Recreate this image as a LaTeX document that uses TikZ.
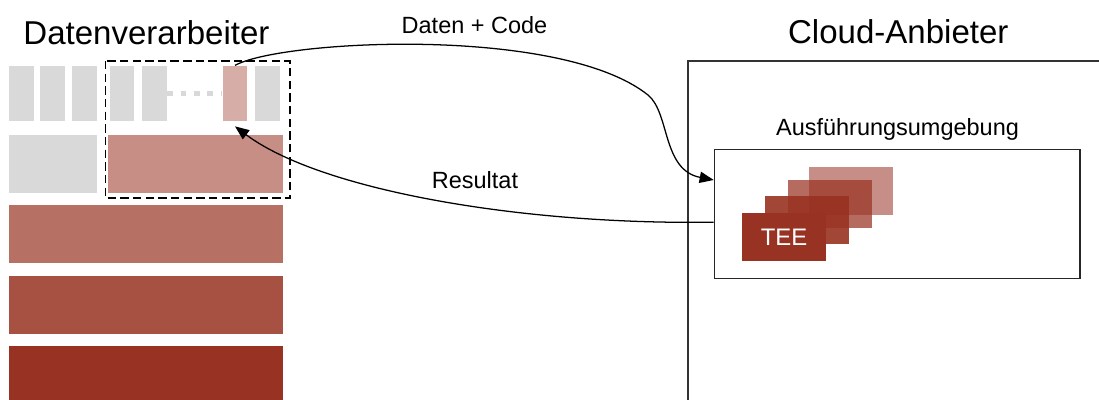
\documentclass[tikz,border=0pt]{standalone}
\usepackage{fontspec}
\setmainfont{Liberation Sans}
\usetikzlibrary{arrows.meta}

\definecolor{teered}{RGB}{152,50,34}
\definecolor{blkgray}{RGB}{217,217,217}

\tikzset{
  blk/.style={rectangle, inner sep=0pt, minimum width=6.2mm, minimum height=13.9mm, fill=blkgray},
  bar/.style={rectangle, inner sep=0pt, minimum width=68.5mm, minimum height=14.6mm},
  tee/.style={rectangle, inner sep=0pt, minimum width=21mm, minimum height=12mm, fill=teered},
  title/.style={font=\fontsize{23.5}{28}\selectfont, anchor=base},
  lbl/.style={font=\fontsize{16.7}{20}\selectfont, anchor=base},
  flow/.style={-{Triangle[length=10pt,width=8pt]}, line width=0.9pt},
}

\begin{document}
\begin{tikzpicture}[x=0.25mm, y=-0.25mm]
\useasboundingbox (0,0) rectangle (1099,399);
\clip (0,0) rectangle (1099,399);

% Titles
\node[title] (tproc) at (146.5,44.3) {Datenverarbeiter};
\node[title] (tcloud) at (898.3,43.3) {Cloud-Anbieter};

% Top row of blocks
\node[blk] (b1) at (21.8,93.5) {};
\node[blk] (b2) at (52.5,93.5) {};
\node[blk] (b3) at (84.7,93.5) {};
\node[blk] (b4) at (122,93.5) {};
\node[blk] (b5) at (154.5,93.5) {};
\node[blk, fill=teered!40] (pk) at (235,93.5) {};
\node[blk] (b7) at (267.5,93.5) {};
\draw[blkgray, line width=3.5pt, dash pattern=on 4pt off 5.5pt] (b5.east) -- (pk.west);

% Second row
\node[blk, minimum width=21.9mm, minimum height=14.65mm] (g2) at (53.2,164) {};
\node[blk, fill=teered!55, minimum width=43.75mm, minimum height=14.65mm] (r2) at (195.8,164) {};

% Selection
\draw[line width=1.1pt, dash pattern=on 6pt off 3pt] (105.3,61) rectangle (290,197.8);

% Bars
\node[bar, fill=teered!70] (bar1) at (146.3,233.8) {};
\node[bar, fill=teered!85] (bar2) at (146.3,305.2) {};
\node[bar, fill=teered, minimum height=18.5mm] (bar3) at (146.3,383) {};

% Cloud side
\draw[black!80, line width=1.2pt] (687.7,61) rectangle (1120,420);
\node[lbl] (tenv) at (897.5,135) {Ausführungsumgebung};
\node[draw=black!85, line width=1pt, rectangle, inner sep=0pt,
      minimum width=91.4mm, minimum height=32.25mm] (env) at (897.2,213.8) {};

% TEE stack
\foreach \n/\cx/\cy/\op in {4/851/191/0.55, 3/830/204/0.72, 2/807/220/0.9}
  \node[tee, fill opacity=\op] (tee\n) at (\cx,\cy) {};
\node[tee, text=white, font=\fontsize{17}{20}\selectfont] (tee1) at (784,237) {TEE};

% Arrows
\draw[flow] (pk.north) .. controls (280,40) and (560,25) .. (648,95)
  .. controls (670,113) and (662,170) .. ([yshift=8.45mm]env.west);
\draw[flow] ([yshift=-2.1mm]env.west) .. controls (520,225) and (320,190) .. ([yshift=-1.2mm]pk.south);

\node[lbl] (ldata) at (474.5,33.3) {Daten + Code};
\node[lbl] (lres) at (475,188.3) {Resultat};
\end{tikzpicture}
\end{document}
